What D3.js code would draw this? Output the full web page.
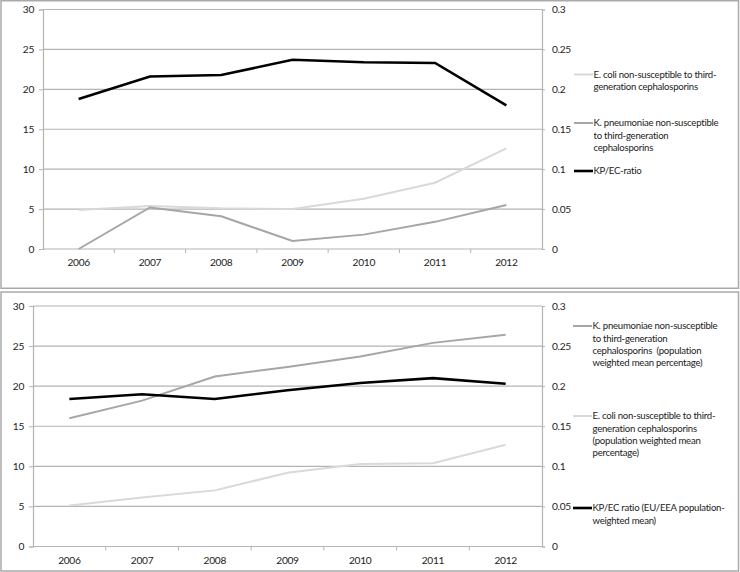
<!DOCTYPE html>
<html>
<head>
<meta charset="utf-8">
<script src="https://cdn.jsdelivr.net/npm/d3@7"></script>
<style>
  html, body { margin: 0; padding: 0; background: #fff; }
  svg { display: block; }
  text { font-family: Lato, "Open Sans", sans-serif; fill: #222; }
  .leg { white-space: pre; letter-spacing: -0.25px; }
  .ax text { letter-spacing: -0.3px; }
</style>
</head>
<body>
<svg id="chart" width="740" height="572"></svg>
<script>
const years = ["2006", "2007", "2008", "2009", "2010", "2011", "2012"];
const leftTicks = [0, 5, 10, 15, 20, 25, 30];
const rightTicks = [0, 0.05, 0.1, 0.15, 0.2, 0.25, 0.3];
const rightTickLabels = ["0", "0.05", "0.1", "0.15", "0.2", "0.25", "0.3"];

// Panel 1 (top)
const topEcoli = [4.9, 5.4, 5.1, 5.0, 6.3, 8.3, 12.6];
const topKpneu = [0.0, 5.2, 4.1, 1.0, 1.8, 3.4, 5.5];
const topRatio = [0.188, 0.216, 0.218, 0.237, 0.234, 0.233, 0.180];
const topLegend = [
  ["E. coli non-susceptible to third-", "generation cephalosporins"],
  ["K. pneumoniae non-susceptible", "to third-generation", "cephalosporins"],
  ["KP/EC-ratio"]
];

// Panel 2 (bottom)
const botKpneu = [16.0, 18.2, 21.2, 22.4, 23.7, 25.4, 26.4];
const botEcoli = [5.1, 6.1, 7.0, 9.2, 10.3, 10.4, 12.7];
const botRatio = [0.184, 0.190, 0.184, 0.195, 0.204, 0.210, 0.203];
const botLegend = [
  ["K. pneumoniae non-susceptible", "to third-generation", "cephalosporins  (population", "weighted mean percentage)"],
  ["E. coli non-susceptible to third-", "generation cephalosporins", "(population weighted mean", "percentage)"],
  ["KP/EC ratio (EU/EEA population-", "weighted mean)"]
];

const LIGHT = "#d9d9d9", MID = "#a6a6a6", DARK = "#000000";
const svg = d3.select("#chart");

function panel(cfg) {
  const g = svg.append("g");
  // frame
  g.append("rect").attr("x", cfg.frame[0]).attr("y", cfg.frame[1])
    .attr("width", cfg.frame[2]).attr("height", cfg.frame[3])
    .attr("fill", "none").attr("stroke", "#aaaaaa").attr("stroke-width", 1.5);

  const x = d3.scaleBand().domain(years).range([cfg.x0, cfg.x1]);
  const yL = d3.scaleLinear().domain([0, 30]).range([cfg.yb, cfg.yt]);
  const yR = d3.scaleLinear().domain([0, 0.3]).range([cfg.yb, cfg.yt]);

  // gridlines
  g.append("g").selectAll("line").data(leftTicks.filter(d => d > 0)).join("line")
    .attr("x1", cfg.x0).attr("x2", cfg.x1)
    .attr("y1", d => yL(d)).attr("y2", d => yL(d))
    .attr("stroke", "#b4b4b4").attr("stroke-width", 1.2);

  // left axis
  const la = g.append("g").attr("class", "ax").attr("transform", `translate(${cfg.x0},0)`)
    .call(d3.axisLeft(yL).tickValues(leftTicks).tickSize(4).tickPadding(5).tickFormat(d3.format("d")));
  la.select(".domain").attr("stroke", "#b4b4b4").attr("stroke-width", 1.2);
  la.selectAll(".tick line").attr("stroke", "#b4b4b4");
  la.selectAll("text").attr("font-size", 10.2).attr("fill", "#222").attr("font-family", "Lato, sans-serif");

  // right axis
  const ra = g.append("g").attr("class", "ax").attr("transform", `translate(${cfg.x1},0)`)
    .call(d3.axisRight(yR).tickValues(rightTicks).tickSize(3).tickPadding(7)
      .tickFormat((d, i) => rightTickLabels[i]));
  ra.select(".domain").attr("stroke", "#b4b4b4").attr("stroke-width", 1.2);
  ra.selectAll(".tick line").attr("stroke", "#b4b4b4");
  ra.selectAll("text").attr("font-size", 10.2).attr("fill", "#222").attr("font-family", "Lato, sans-serif");

  // bottom axis: ticks at band boundaries
  const xa = g.append("g").attr("class", "ax").attr("transform", `translate(0,${cfg.yb})`)
    .call(d3.axisBottom(x).tickSize(0).tickPadding(10));
  xa.select(".domain").remove();
  xa.selectAll("text").attr("font-size", 10.2).attr("fill", "#222").attr("font-family", "Lato, sans-serif");
  g.append("line").attr("x1", cfg.x0).attr("x2", cfg.x1).attr("y1", cfg.yb).attr("y2", cfg.yb)
    .attr("stroke", "#b4b4b4").attr("stroke-width", 1.2);
  g.append("g").selectAll("line").data(years.slice(1)).join("line")
    .attr("x1", d => x(d)).attr("x2", d => x(d))
    .attr("y1", cfg.yb).attr("y2", cfg.yb + 4)
    .attr("stroke", "#b4b4b4");

  const cx = d => x(d) + x.bandwidth() / 2;
  cfg.series.forEach(s => {
    const sc = s.axis === "right" ? yR : yL;
    const line = d3.line().x((d, i) => cx(years[i])).y(d => sc(d));
    g.append("path").datum(s.values).attr("d", line)
      .attr("fill", "none").attr("stroke", s.color).attr("stroke-width", s.width)
      .attr("stroke-linejoin", "miter");
  });

  // legend
  cfg.legend.forEach((item, k) => {
    const ly = cfg.legendY[k];
    g.append("line").attr("x1", cfg.legX).attr("x2", cfg.legX + 19)
      .attr("y1", ly).attr("y2", ly)
      .attr("stroke", cfg.legendColors[k]).attr("stroke-width", cfg.legendWidths[k]);
    item.forEach((t, j) => {
      g.append("text").attr("class", "leg").attr("x", cfg.legX + 19.5).attr("y", ly + j * 12.2)
        .attr("dy", "0.35em").attr("font-size", 9.6).text(t);
    });
  });
}

panel({
  frame: [1, 0.75, 737.5, 287.5],
  x0: 43, x1: 542, yt: 9.5, yb: 249,
  series: [
    { values: topEcoli, color: LIGHT, width: 2, axis: "left" },
    { values: topKpneu, color: MID, width: 2, axis: "left" },
    { values: topRatio, color: DARK, width: 2.6, axis: "right" }
  ],
  legend: topLegend,
  legendY: [74.5, 123, 171],
  legendColors: [LIGHT, MID, DARK],
  legendWidths: [2, 2, 2.6],
  legX: 574
});

panel({
  frame: [1, 292, 737.5, 279],
  x0: 33, x1: 542, yt: 306, yb: 546.5,
  series: [
    { values: botEcoli, color: LIGHT, width: 2, axis: "left" },
    { values: botKpneu, color: MID, width: 2, axis: "left" },
    { values: botRatio, color: DARK, width: 2.6, axis: "right" }
  ],
  legend: botLegend,
  legendY: [326, 416, 508],
  legendColors: [MID, LIGHT, DARK],
  legendWidths: [2, 2, 2.6],
  legX: 573
});
</script>
</body>
</html>
